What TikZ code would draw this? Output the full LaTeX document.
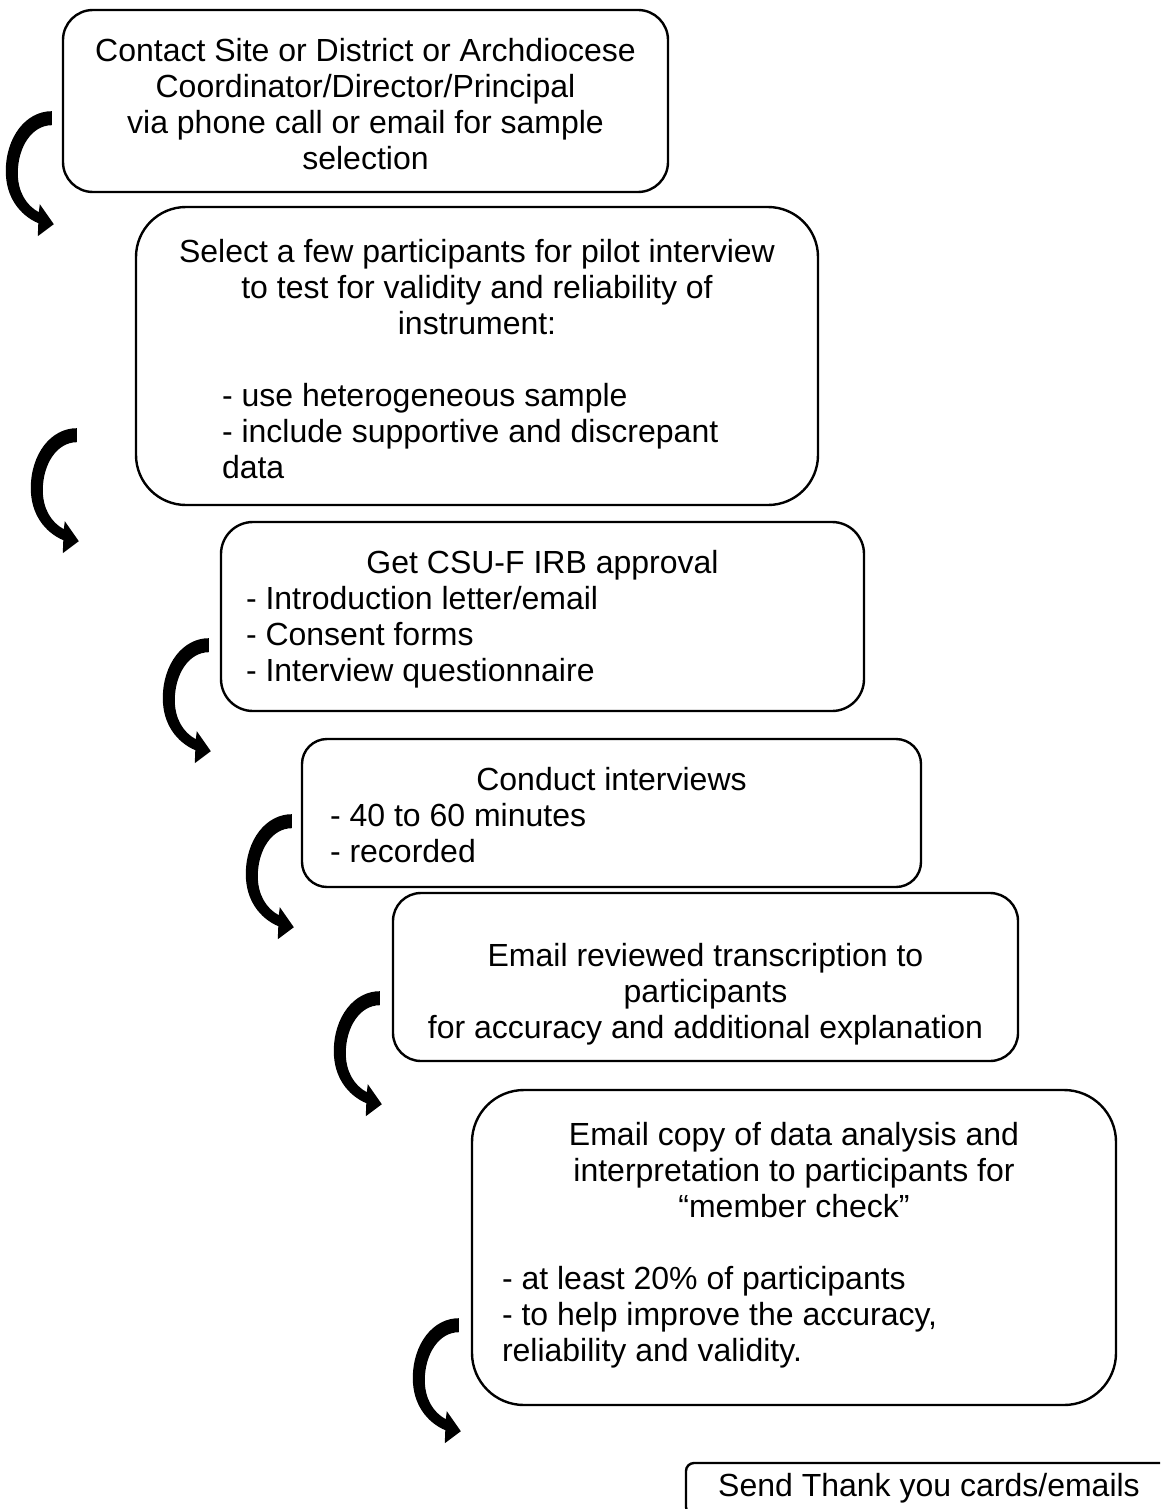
\documentclass[tikz,border=0pt]{standalone}
\usepackage{fontspec}
\setmainfont{Liberation Sans}
\usetikzlibrary{positioning,calc}

\newcommand{\stepitem}[2]{\makebox[#1][l]{#2}}

\tikzset{
  stepbox/.style={draw, line width=2.4pt, inner sep=0pt},
  steptext/.style={align=center, inner sep=0pt, font=\fontsize{32pt}{36pt}\selectfont},
  bentarrow/.pic={
    \fill (0,0) .. controls (-26,0) and (-46,26) .. (-46,60)
      .. controls (-46,86) and (-32,104) .. (-13.5,112)
      -- (-14,125) -- (2,113) -- (-12,93) -- (-13,101)
      .. controls (-26,94) and (-34,80) .. (-34,62)
      .. controls (-34,36) and (-20,14) .. (0,14) -- cycle;
  }
}

\begin{document}
\begin{tikzpicture}[x=1pt, y=-1pt]
\useasboundingbox (0,0) rectangle (1160,1509);
\clip (0,0) rectangle (1160,1509);

% Boxes
\node[stepbox, minimum width=605pt, minimum height=182pt, rounded corners=30pt] (contact) at (365.5,101) {};
\node[stepbox, minimum width=682pt, minimum height=298pt, rounded corners=50pt] (pilot) at (477,356) {};
\node[stepbox, minimum width=643pt, minimum height=189pt, rounded corners=32pt] (irb) at (542.5,616.5) {};
\node[stepbox, minimum width=619pt, minimum height=148pt, rounded corners=25pt] (interview) at (611.5,813) {};
\node[stepbox, minimum width=625pt, minimum height=168pt, rounded corners=28pt] (review) at (705.5,977) {};
\node[stepbox, minimum width=644pt, minimum height=315pt, rounded corners=52pt] (check) at (794,1247.5) {};
\node[stepbox, minimum width=486pt, minimum height=52pt, rounded corners=8pt] (thanks) at (929,1489) {};

% Texts
\node[steptext] (contact text) at ([yshift=-3pt]contact.center)
  {Contact Site or District or Archdiocese\\Coordinator/Director/Principal\\via phone call or email for sample\\selection};
\node[steptext] (pilot text) at ([yshift=-3pt]pilot.center)
  {Select a few participants for pilot interview\\to test for validity and reliability of\\instrument:\\[36pt]
   \stepitem{510pt}{- use heterogeneous sample}\\\stepitem{510pt}{- include supportive and discrepant}\\\stepitem{510pt}{data}};
\node[steptext] (irb text) at ([yshift=-3pt]irb.center)
  {Get CSU-F IRB approval\\\stepitem{593pt}{- Introduction letter/email}\\\stepitem{593pt}{- Consent forms}\\\stepitem{593pt}{- Interview questionnaire}};
\node[steptext] (interview text) at ([yshift=-2pt]interview.center)
  {Conduct interviews\\\stepitem{563pt}{- 40 to 60 minutes}\\\stepitem{563pt}{- recorded}};
\node[steptext] (review text) at ([yshift=-17pt]review.center)
  {Email reviewed transcription to\\participants\\for accuracy and additional explanation};
\node[steptext] (check text) at ([yshift=2.5pt]check.center)
  {Email copy of data analysis and\\interpretation to participants for\\“member check”\\[36pt]
   \stepitem{584pt}{- at least 20\% of participants}\\\stepitem{584pt}{- to help improve the accuracy,}\\\stepitem{584pt}{reliability and validity.}};
\node[steptext] (thanks text) at ([yshift=1pt]thanks.center) {Send Thank you cards/emails};

% Curved arrows between steps
\pic at ($(contact.south west)+(-10,-82)$) {bentarrow};
\pic at ($(pilot.south west)+(-58,-78)$) {bentarrow};
\pic at ($(irb.south west)+(-11,-74)$) {bentarrow};
\pic at ($(interview.south west)+(-9,-74)$) {bentarrow};
\pic at ($(review.south west)+(-12,-71)$) {bentarrow};
\pic at ($(check.south west)+(-12,-88)$) {bentarrow};
\end{tikzpicture}
\end{document}
